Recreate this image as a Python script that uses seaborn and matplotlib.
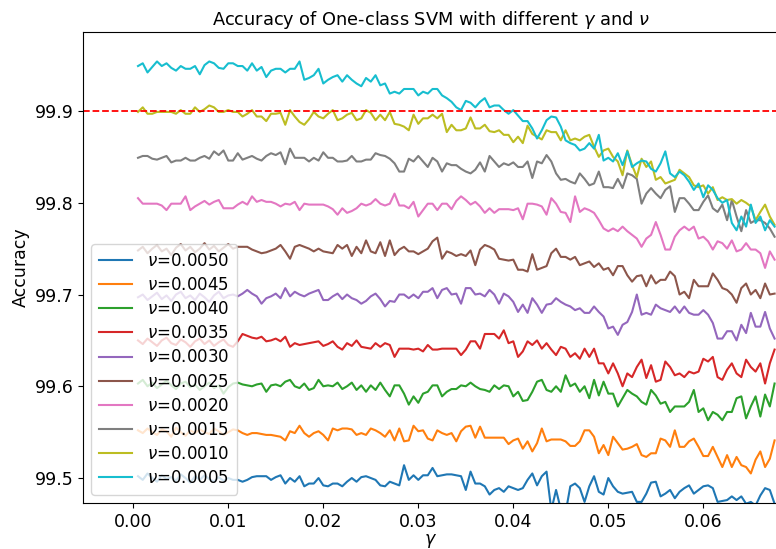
import numpy as np
import matplotlib
matplotlib.use("Agg")
import matplotlib.pyplot as plt
import seaborn as sns

# gamma grid of the experiment
gamma = np.round(np.linspace(0.0005, 0.0675, 135), 4)

nu_labels = ["0.0050", "0.0045", "0.0040", "0.0035", "0.0030",
             "0.0025", "0.0020", "0.0015", "0.0010", "0.0005"]

acc_nu_0005 = [
    99.949, 99.952, 99.942, 99.948, 99.954, 99.949, 99.952, 99.947, 99.944, 99.949,
    99.946, 99.946, 99.949, 99.940, 99.950, 99.954, 99.952, 99.947, 99.946, 99.952,
    99.952, 99.949, 99.949, 99.944, 99.952, 99.944, 99.948, 99.937, 99.944, 99.946,
    99.946, 99.942, 99.946, 99.946, 99.954, 99.934, 99.936, 99.939, 99.946, 99.930,
    99.934, 99.937, 99.939, 99.932, 99.939, 99.934, 99.930, 99.927, 99.936, 99.932,
    99.939, 99.928, 99.930, 99.919, 99.921, 99.919, 99.924, 99.924, 99.924, 99.917,
    99.921, 99.919, 99.924, 99.924, 99.917, 99.914, 99.910, 99.904, 99.901, 99.911,
    99.909, 99.904, 99.910, 99.914, 99.904, 99.906, 99.906, 99.901, 99.897, 99.901,
    99.895, 99.889, 99.889, 99.881, 99.870, 99.879, 99.890, 99.894, 99.893, 99.883,
    99.868, 99.865, 99.863, 99.857, 99.859, 99.865, 99.859, 99.874, 99.846, 99.849,
    99.845, 99.854, 99.841, 99.856, 99.839, 99.843, 99.846, 99.845, 99.837, 99.834,
    99.843, 99.856, 99.832, 99.828, 99.834, 99.830, 99.823, 99.814, 99.821, 99.806,
    99.819, 99.814, 99.805, 99.800, 99.803, 99.778, 99.770, 99.785, 99.774, 99.798,
    99.778, 99.785, 99.770, 99.781, 99.774]

acc_nu_0010 = [
    99.899, 99.904, 99.897, 99.897, 99.899, 99.899, 99.899, 99.899, 99.897, 99.901,
    99.897, 99.897, 99.904, 99.899, 99.902, 99.906, 99.904, 99.899, 99.899, 99.901,
    99.899, 99.899, 99.894, 99.897, 99.901, 99.894, 99.894, 99.889, 99.897, 99.897,
    99.898, 99.885, 99.901, 99.894, 99.888, 99.885, 99.891, 99.899, 99.894, 99.892,
    99.897, 99.901, 99.890, 99.892, 99.896, 99.898, 99.890, 99.892, 99.901, 99.898,
    99.890, 99.896, 99.890, 99.899, 99.886, 99.885, 99.883, 99.879, 99.896, 99.886,
    99.892, 99.892, 99.896, 99.892, 99.897, 99.877, 99.885, 99.879, 99.879, 99.881,
    99.893, 99.881, 99.881, 99.885, 99.878, 99.877, 99.879, 99.874, 99.874, 99.866,
    99.872, 99.865, 99.884, 99.875, 99.872, 99.869, 99.879, 99.877, 99.877, 99.868,
    99.879, 99.868, 99.870, 99.868, 99.872, 99.874, 99.861, 99.850, 99.857, 99.859,
    99.850, 99.845, 99.830, 99.857, 99.841, 99.828, 99.848, 99.839, 99.845, 99.825,
    99.828, 99.821, 99.823, 99.825, 99.836, 99.832, 99.828, 99.819, 99.817, 99.819,
    99.810, 99.817, 99.803, 99.806, 99.803, 99.804, 99.799, 99.803, 99.800, 99.796,
    99.781, 99.790, 99.798, 99.785, 99.776]

acc_nu_0015 = [
    99.849, 99.851, 99.851, 99.848, 99.847, 99.849, 99.851, 99.844, 99.846, 99.846,
    99.849, 99.846, 99.846, 99.849, 99.851, 99.848, 99.856, 99.852, 99.857, 99.846,
    99.846, 99.854, 99.847, 99.849, 99.851, 99.848, 99.846, 99.851, 99.854, 99.852,
    99.855, 99.842, 99.859, 99.849, 99.849, 99.849, 99.845, 99.849, 99.846, 99.855,
    99.849, 99.849, 99.845, 99.845, 99.846, 99.851, 99.845, 99.845, 99.847, 99.847,
    99.854, 99.852, 99.851, 99.848, 99.843, 99.834, 99.834, 99.848, 99.845, 99.851,
    99.845, 99.839, 99.849, 99.845, 99.834, 99.843, 99.841, 99.841, 99.837, 99.834,
    99.832, 99.836, 99.844, 99.834, 99.851, 99.845, 99.839, 99.843, 99.841, 99.844,
    99.839, 99.839, 99.845, 99.827, 99.845, 99.843, 99.852, 99.845, 99.832, 99.825,
    99.826, 99.823, 99.821, 99.832, 99.826, 99.819, 99.821, 99.834, 99.817, 99.817,
    99.816, 99.826, 99.816, 99.832, 99.830, 99.826, 99.799, 99.810, 99.816, 99.810,
    99.805, 99.814, 99.818, 99.790, 99.805, 99.805, 99.799, 99.792, 99.792, 99.801,
    99.808, 99.794, 99.790, 99.798, 99.781, 99.803, 99.785, 99.769, 99.792, 99.778,
    99.781, 99.781, 99.778, 99.772, 99.763]

acc_nu_0020 = [
    99.805, 99.799, 99.799, 99.799, 99.799, 99.797, 99.792, 99.799, 99.799, 99.799,
    99.807, 99.792, 99.796, 99.799, 99.802, 99.798, 99.801, 99.803, 99.794, 99.794,
    99.794, 99.798, 99.801, 99.798, 99.807, 99.801, 99.803, 99.801, 99.801, 99.799,
    99.796, 99.799, 99.798, 99.801, 99.792, 99.799, 99.798, 99.798, 99.798, 99.798,
    99.796, 99.793, 99.787, 99.794, 99.789, 99.791, 99.794, 99.799, 99.797, 99.799,
    99.804, 99.799, 99.797, 99.799, 99.810, 99.797, 99.797, 99.794, 99.801, 99.785,
    99.792, 99.799, 99.799, 99.792, 99.799, 99.799, 99.793, 99.802, 99.807, 99.803,
    99.798, 99.801, 99.796, 99.789, 99.794, 99.789, 99.793, 99.793, 99.793, 99.792,
    99.794, 99.782, 99.799, 99.799, 99.798, 99.796, 99.787, 99.805, 99.799, 99.790,
    99.789, 99.779, 99.807, 99.790, 99.794, 99.792, 99.789, 99.781, 99.772, 99.769,
    99.772, 99.769, 99.774, 99.769, 99.765, 99.761, 99.752, 99.761, 99.765, 99.779,
    99.765, 99.749, 99.749, 99.763, 99.770, 99.774, 99.770, 99.774, 99.761, 99.763,
    99.758, 99.749, 99.758, 99.756, 99.750, 99.759, 99.747, 99.749, 99.756, 99.749,
    99.749, 99.745, 99.729, 99.747, 99.738]

acc_nu_0025 = [
    99.748, 99.752, 99.745, 99.750, 99.754, 99.747, 99.750, 99.743, 99.751, 99.755,
    99.748, 99.752, 99.746, 99.750, 99.756, 99.749, 99.753, 99.747, 99.751, 99.755,
    99.750, 99.752, 99.752, 99.752, 99.749, 99.747, 99.745, 99.746, 99.748, 99.750,
    99.754, 99.747, 99.739, 99.752, 99.754, 99.752, 99.750, 99.747, 99.750, 99.747,
    99.746, 99.745, 99.754, 99.750, 99.754, 99.742, 99.752, 99.745, 99.759, 99.747,
    99.745, 99.757, 99.742, 99.759, 99.743, 99.749, 99.752, 99.747, 99.747, 99.744,
    99.747, 99.750, 99.758, 99.762, 99.739, 99.747, 99.745, 99.742, 99.744, 99.742,
    99.748, 99.732, 99.749, 99.754, 99.752, 99.749, 99.739, 99.738, 99.737, 99.738,
    99.727, 99.727, 99.725, 99.744, 99.727, 99.729, 99.731, 99.745, 99.750, 99.741,
    99.741, 99.738, 99.741, 99.732, 99.734, 99.736, 99.730, 99.734, 99.727, 99.729,
    99.721, 99.731, 99.731, 99.721, 99.714, 99.720, 99.721, 99.709, 99.721, 99.712,
    99.716, 99.716, 99.725, 99.720, 99.700, 99.703, 99.696, 99.716, 99.709, 99.709,
    99.709, 99.723, 99.716, 99.707, 99.705, 99.700, 99.691, 99.707, 99.712, 99.700,
    99.705, 99.696, 99.712, 99.700, 99.701]

acc_nu_0030 = [
    99.697, 99.700, 99.694, 99.698, 99.702, 99.695, 99.699, 99.693, 99.700, 99.703,
    99.696, 99.699, 99.694, 99.701, 99.697, 99.692, 99.699, 99.703, 99.696, 99.699,
    99.700, 99.698, 99.701, 99.705, 99.701, 99.698, 99.690, 99.696, 99.698, 99.701,
    99.696, 99.707, 99.698, 99.703, 99.700, 99.698, 99.701, 99.703, 99.705, 99.694,
    99.694, 99.698, 99.701, 99.695, 99.700, 99.696, 99.694, 99.690, 99.693, 99.698,
    99.701, 99.695, 99.687, 99.693, 99.692, 99.700, 99.700, 99.696, 99.700, 99.696,
    99.703, 99.703, 99.707, 99.696, 99.705, 99.707, 99.700, 99.701, 99.690, 99.707,
    99.707, 99.700, 99.701, 99.698, 99.705, 99.700, 99.690, 99.701, 99.698, 99.692,
    99.681, 99.689, 99.680, 99.696, 99.689, 99.680, 99.689, 99.690, 99.696, 99.692,
    99.689, 99.687, 99.683, 99.685, 99.680, 99.680, 99.687, 99.681, 99.676, 99.663,
    99.665, 99.656, 99.667, 99.670, 99.681, 99.700, 99.678, 99.680, 99.678, 99.689,
    99.685, 99.683, 99.681, 99.687, 99.680, 99.687, 99.680, 99.678, 99.678, 99.683,
    99.678, 99.669, 99.652, 99.652, 99.660, 99.660, 99.650, 99.667, 99.658, 99.680,
    99.665, 99.665, 99.681, 99.663, 99.652]

acc_nu_0035 = [
    99.650, 99.646, 99.652, 99.648, 99.644, 99.650, 99.653, 99.647, 99.645, 99.651,
    99.648, 99.643, 99.649, 99.652, 99.646, 99.650, 99.644, 99.648, 99.651, 99.645,
    99.643, 99.649, 99.657, 99.655, 99.653, 99.652, 99.654, 99.649, 99.650, 99.652,
    99.649, 99.654, 99.643, 99.647, 99.645, 99.646, 99.647, 99.648, 99.649, 99.644,
    99.646, 99.649, 99.643, 99.640, 99.647, 99.644, 99.650, 99.643, 99.642, 99.641,
    99.647, 99.643, 99.647, 99.645, 99.632, 99.641, 99.641, 99.641, 99.640, 99.641,
    99.638, 99.645, 99.640, 99.640, 99.641, 99.641, 99.641, 99.641, 99.634, 99.640,
    99.649, 99.649, 99.641, 99.657, 99.657, 99.657, 99.652, 99.661, 99.647, 99.649,
    99.632, 99.638, 99.649, 99.645, 99.650, 99.641, 99.647, 99.640, 99.634, 99.643,
    99.641, 99.632, 99.636, 99.630, 99.641, 99.632, 99.641, 99.625, 99.625, 99.614,
    99.625, 99.614, 99.600, 99.614, 99.610, 99.621, 99.629, 99.609, 99.623, 99.605,
    99.607, 99.627, 99.621, 99.612, 99.614, 99.610, 99.616, 99.614, 99.616, 99.630,
    99.627, 99.632, 99.610, 99.607, 99.618, 99.625, 99.614, 99.610, 99.629, 99.621,
    99.616, 99.625, 99.603, 99.625, 99.640]

acc_nu_0040 = [
    99.603, 99.607, 99.600, 99.604, 99.598, 99.602, 99.606, 99.601, 99.597, 99.603,
    99.605, 99.599, 99.602, 99.596, 99.600, 99.604, 99.598, 99.601, 99.592, 99.599,
    99.603, 99.604, 99.602, 99.601, 99.600, 99.602, 99.603, 99.594, 99.601, 99.602,
    99.600, 99.605, 99.607, 99.600, 99.598, 99.603, 99.596, 99.598, 99.607, 99.600,
    99.601, 99.600, 99.604, 99.597, 99.600, 99.604, 99.596, 99.601, 99.594, 99.601,
    99.596, 99.604, 99.596, 99.589, 99.601, 99.601, 99.592, 99.580, 99.589, 99.582,
    99.592, 99.594, 99.601, 99.601, 99.589, 99.594, 99.597, 99.597, 99.601, 99.600,
    99.604, 99.600, 99.597, 99.596, 99.594, 99.601, 99.597, 99.601, 99.600, 99.589,
    99.594, 99.584, 99.585, 99.594, 99.605, 99.607, 99.596, 99.594, 99.600, 99.594,
    99.612, 99.600, 99.603, 99.594, 99.600, 99.587, 99.607, 99.590, 99.605, 99.592,
    99.592, 99.578, 99.587, 99.596, 99.592, 99.589, 99.583, 99.580, 99.596, 99.590,
    99.581, 99.583, 99.572, 99.578, 99.578, 99.578, 99.583, 99.596, 99.572, 99.576,
    99.563, 99.572, 99.569, 99.563, 99.572, 99.572, 99.587, 99.589, 99.565, 99.578,
    99.589, 99.567, 99.591, 99.578, 99.603]

acc_nu_0045 = [
    99.552, 99.549, 99.554, 99.550, 99.547, 99.553, 99.551, 99.545, 99.555, 99.550,
    99.546, 99.552, 99.549, 99.553, 99.550, 99.548, 99.554, 99.551, 99.547, 99.550,
    99.553, 99.552, 99.549, 99.547, 99.549, 99.549, 99.548, 99.547, 99.547, 99.546,
    99.545, 99.541, 99.551, 99.549, 99.557, 99.549, 99.545, 99.549, 99.551, 99.547,
    99.541, 99.554, 99.552, 99.554, 99.554, 99.553, 99.547, 99.549, 99.547, 99.554,
    99.552, 99.549, 99.545, 99.552, 99.541, 99.554, 99.540, 99.541, 99.557, 99.551,
    99.552, 99.543, 99.541, 99.552, 99.549, 99.547, 99.549, 99.540, 99.551, 99.556,
    99.557, 99.544, 99.556, 99.544, 99.544, 99.544, 99.544, 99.544, 99.537, 99.541,
    99.543, 99.532, 99.540, 99.529, 99.538, 99.554, 99.540, 99.542, 99.542, 99.542,
    99.540, 99.535, 99.535, 99.540, 99.552, 99.552, 99.545, 99.527, 99.536, 99.525,
    99.545, 99.538, 99.531, 99.532, 99.534, 99.537, 99.525, 99.523, 99.527, 99.527,
    99.543, 99.541, 99.534, 99.552, 99.534, 99.534, 99.540, 99.543, 99.534, 99.524,
    99.524, 99.534, 99.523, 99.512, 99.525, 99.512, 99.523, 99.514, 99.512, 99.505,
    99.520, 99.529, 99.512, 99.521, 99.541]

acc_nu_0050 = [
    99.502, 99.498, 99.505, 99.500, 99.496, 99.503, 99.499, 99.501, 99.497, 99.504,
    99.500, 99.495, 99.502, 99.498, 99.503, 99.499, 99.496, 99.501, 99.497, 99.500,
    99.498, 99.498, 99.496, 99.498, 99.501, 99.502, 99.502, 99.502, 99.498, 99.501,
    99.503, 99.494, 99.500, 99.496, 99.502, 99.491, 99.494, 99.494, 99.500, 99.492,
    99.491, 99.494, 99.494, 99.491, 99.496, 99.500, 99.496, 99.501, 99.502, 99.500,
    99.498, 99.492, 99.491, 99.496, 99.494, 99.492, 99.514, 99.498, 99.503, 99.498,
    99.503, 99.503, 99.511, 99.502, 99.503, 99.504, 99.504, 99.503, 99.502, 99.487,
    99.507, 99.494, 99.494, 99.491, 99.482, 99.487, 99.489, 99.485, 99.491, 99.489,
    99.487, 99.489, 99.498, 99.505, 99.492, 99.502, 99.507, 99.465, 99.487, 99.466,
    99.462, 99.491, 99.494, 99.489, 99.474, 99.491, 99.502, 99.485, 99.482, 99.500,
    99.491, 99.485, 99.483, 99.484, 99.485, 99.474, 99.474, 99.483, 99.495, 99.496,
    99.480, 99.483, 99.487, 99.478, 99.485, 99.489, 99.492, 99.483, 99.487, 99.491,
    99.492, 99.489, 99.474, 99.475, 99.476, 99.480, 99.476, 99.480, 99.472, 99.474,
    99.470, 99.481, 99.489, 99.487, 99.472]

series = [acc_nu_0050, acc_nu_0045, acc_nu_0040, acc_nu_0035, acc_nu_0030,
          acc_nu_0025, acc_nu_0020, acc_nu_0015, acc_nu_0010, acc_nu_0005]

threshold = 99.9
x_ticks = [0.00, 0.01, 0.02, 0.03, 0.04, 0.05, 0.06]
y_ticks = [99.5, 99.6, 99.7, 99.8, 99.9]

W, H = 776, 549
fig = plt.figure(figsize=(W / 100, H / 100), dpi=100)
ax = fig.add_axes([83 / W, (H - 503) / H, (778 - 83) / W, (503 - 32) / H])

palette = sns.color_palette("tab10", 10)
for k, (lab, vals) in enumerate(zip(nu_labels, series)):
    sns.lineplot(x=gamma, y=vals, ax=ax, color=palette[k],
                 label=r"$\nu$=" + lab, linewidth=1.5)

ax.axhline(threshold, color="red", linestyle="--", linewidth=1.3)

ax.set_xlim(-0.00529, 0.06786)
ax.set_ylim(99.4728, 99.9861)
ax.set_xticks(x_ticks)
ax.set_xticklabels([f"{v:.2f}" for v in x_ticks])
ax.set_yticks(y_ticks)
ax.set_yticklabels([f"{v:.1f}" for v in y_ticks])
ax.tick_params(labelsize=12.5)

ax.set_title(r"Accuracy of One-class SVM with different $\gamma$ and $\nu$",
             fontsize=12.8, pad=5)
ax.set_xlabel(r"$\gamma$", fontsize=12.5, labelpad=1)
ax.set_ylabel("Accuracy", fontsize=12.5, labelpad=3)
ax.legend(loc="lower left", fontsize=12, labelspacing=0.37, handletextpad=0.9,
          borderpad=0.45)

fig.savefig("out.png", dpi=100)
